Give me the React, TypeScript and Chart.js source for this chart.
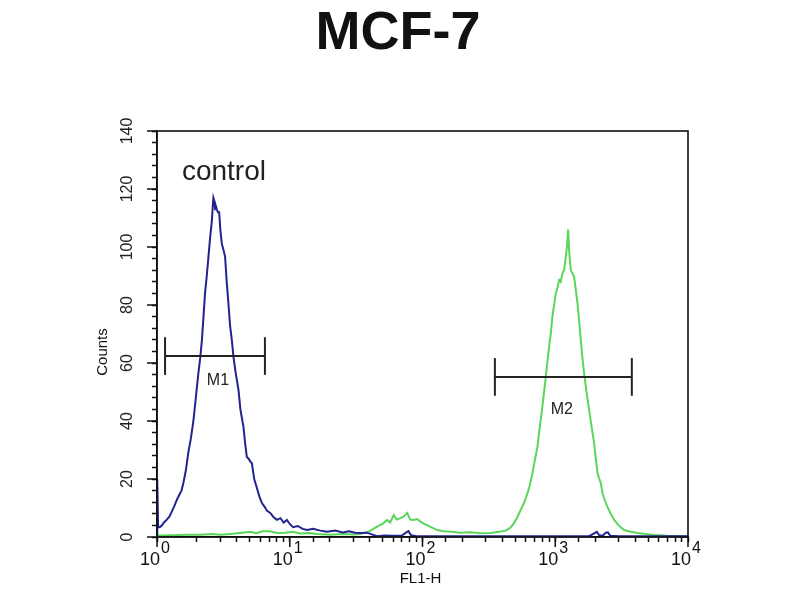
import React, { useEffect, useRef } from "react";
import { Chart, registerables } from "chart.js";

Chart.register(...registerables);

const chartTitle = "MCF-7";
const xAxisTitle = "FL1-H";
const yAxisTitle = "Counts";
const xDecades = [0, 1, 2, 3, 4];
const yTickLabels = [0, 20, 40, 60, 80, 100, 120, 140];
const controlLabel = "control";
const controlLabelPos = [1.54, 123];

// control (blue) histogram: [FL1-H channel, counts]
const controlHistogram: [number, number][] = [
  [1.0, 0], [1.004, 20], [1.02, 3.4], [1.05, 3.4], [1.09, 4], [1.13, 5], [1.18, 5.9], [1.24, 7],
  [1.3, 9], [1.36, 11], [1.41, 12.8], [1.47, 14.5], [1.53, 16], [1.58, 18.6], [1.65, 23], [1.72, 29],
  [1.8, 34], [1.88, 40], [1.96, 48], [2.05, 56.5], [2.12, 62], [2.18, 68], [2.24, 76], [2.3, 84],
  [2.37, 90], [2.44, 96.5], [2.51, 103], [2.59, 109], [2.63, 114], [2.66, 117], [2.7, 116], [2.74, 113],
  [2.78, 114], [2.82, 113], [2.88, 112], [2.94, 112], [3.0, 106], [3.08, 101], [3.17, 99], [3.26, 96.5],
  [3.35, 88], [3.45, 80.7], [3.55, 73], [3.66, 68], [3.77, 62], [3.9, 57], [4.0, 54], [4.11, 50.7],
  [4.25, 44], [4.36, 41], [4.48, 38], [4.62, 32], [4.75, 27.6], [4.9, 27], [5.05, 26], [5.18, 25.5],
  [5.4, 20], [5.65, 17], [5.9, 14], [6.17, 11.7], [6.45, 10.5], [6.75, 9], [7.13, 8.3], [7.5, 7],
  [8.01, 5.9], [8.5, 6.5], [9.0, 5], [9.52, 5.9], [10.0, 4.5], [10.6, 3.4], [11.5, 3.8], [12.5, 2.8],
  [13.5, 2.4], [15, 2.8], [17, 2.2], [19.1, 1.8], [22, 2.2], [25, 1.6], [28, 2.0], [31, 1.5],
  [34, 1.4], [38, 1.5], [41, 1.0], [45.5, 0.3], [52, 0.5], [60, 0.4], [70, 0.5], [75, 1.5],
  [78.4, 2.0], [82, 0.6], [90, 0.3], [110, 0.3], [140, 0.3], [180, 0.3], [250, 0.3], [350, 0.3],
  [500, 0.3], [700, 0.3], [1000, 0.3], [1400, 0.3], [1800, 0.3], [1950, 1.2], [2057, 1.8], [2150, 0.5],
  [2300, 0.6], [2400, 1.5], [2490, 1.6], [2600, 0.4], [3000, 0.3], [4000, 0.3], [6000, 0.3], [10000, 0.3],
];

// MCF-7 sample (green) histogram: [FL1-H channel, counts]
const sampleHistogram: [number, number][] = [
  [1, 0.5], [1.3, 0.6], [1.7, 0.8], [2.11, 0.8], [2.6, 1.0], [3.0, 0.8], [3.55, 1.0], [4.2, 1.4],
  [5.03, 1.8], [5.6, 1.3], [6.2, 2.0], [7.13, 2.0], [8, 1.4], [9.25, 1.5], [10.5, 1.8], [12, 1.2],
  [14, 1.4], [16, 1.0], [20.2, 0.8], [25, 1.0], [30, 0.9], [34, 1.0], [40, 2.0], [45.5, 3.6],
  [50, 4.5], [54.2, 5.9], [57, 5.0], [60.7, 7.6], [64, 6.0], [68.2, 6.5], [72, 7.0], [76.6, 8.3],
  [81, 6.0], [86, 5.9], [91, 6.2], [96.6, 5.3], [102, 4.6], [108, 4.1], [118, 3.2], [129, 2.4],
  [145, 2.0], [165, 1.8], [194, 1.5], [230, 1.6], [270, 1.3], [326, 1.4], [380, 1.8], [423, 2.2],
  [460, 3.2], [489, 4.8], [520, 7], [549, 9.3], [585, 12], [617, 15], [645, 18], [673, 22],
  [705, 27], [734, 31], [765, 38], [800, 45], [848, 55], [898, 65.5], [925, 70], [952, 76],
  [980, 80], [1009, 84], [1040, 86], [1069, 88.6], [1100, 88], [1133, 91], [1165, 92], [1200, 96.5],
  [1225, 100], [1250, 106], [1275, 98], [1309, 92], [1345, 91], [1387, 89.7], [1430, 85], [1470, 80.7],
  [1510, 75], [1557, 68], [1600, 62], [1650, 56.5], [1720, 50], [1800, 43.8], [1880, 38], [1963, 32.4],
  [2020, 27], [2082, 22], [2150, 20], [2205, 18.6], [2270, 15], [2370, 12.5], [2477, 10.3], [2620, 8],
  [2780, 5.9], [3000, 4], [3305, 2.4], [3700, 1.8], [4170, 1.4], [4800, 1.0], [5535, 0.7], [7000, 0.4],
  [10000, 0.3],
];

// gate markers
const markerNames = ["M1", "M2"];
const markerStart = [1.15, 351];
const markerEnd = [6.5, 3775];
const markerLevel = [62.4, 55.2];
const markerCapHalf = 6.5;
const markerLabelX = [2.88, 1122];
const markerLabelY = [53.8, 44];

const FONT = '"Liberation Sans", Arial, sans-serif';
const BLUE = "#23238f";
const GREEN = "#5ad65a";
const INK = "#111111";

const overlayPlugin = {
  id: "overlay",
  afterDraw(chart: any) {
    const { ctx, chartArea: a } = chart;
    const x = chart.scales.x;
    const y = chart.scales.y;
    const line = (x1: number, y1: number, x2: number, y2: number) => {
      ctx.beginPath();
      ctx.moveTo(x1, y1);
      ctx.lineTo(x2, y2);
      ctx.stroke();
    };
    ctx.save();
    ctx.strokeStyle = INK;
    ctx.lineWidth = 1.6;
    ctx.strokeRect(a.left, a.top, a.right - a.left, a.bottom - a.top);

    // major ticks (longer)
    ctx.lineWidth = 1.5;
    xDecades.forEach((d) => {
      const px = x.getPixelForValue(Math.pow(10, d));
      line(px, a.bottom, px, a.bottom + 10);
    });
    yTickLabels.forEach((v) => {
      const py = y.getPixelForValue(v);
      line(a.left - 10, py, a.left, py);
    });

    // gate markers
    ctx.strokeStyle = "#222";
    ctx.lineWidth = 2;
    markerNames.forEach((name, i) => {
      const x1 = x.getPixelForValue(markerStart[i]);
      const x2 = x.getPixelForValue(markerEnd[i]);
      const py = y.getPixelForValue(markerLevel[i]);
      const capTop = y.getPixelForValue(markerLevel[i] + markerCapHalf);
      const capBot = y.getPixelForValue(markerLevel[i] - markerCapHalf);
      line(x1, py, x2, py);
      line(x1, capTop, x1, capBot);
      line(x2, capTop, x2, capBot);
      ctx.fillStyle = "#222";
      ctx.font = `16px ${FONT}`;
      ctx.textAlign = "center";
      ctx.textBaseline = "middle";
      ctx.fillText(name, x.getPixelForValue(markerLabelX[i]), y.getPixelForValue(markerLabelY[i]));
    });

    // control label
    ctx.fillStyle = "#222";
    ctx.font = `28px ${FONT}`;
    ctx.textAlign = "left";
    ctx.textBaseline = "alphabetic";
    ctx.fillText(controlLabel, x.getPixelForValue(controlLabelPos[0]), y.getPixelForValue(controlLabelPos[1]));

    // title
    ctx.fillStyle = INK;
    ctx.font = `bold 54px ${FONT}`;
    ctx.textAlign = "center";
    ctx.fillText(chartTitle, 398, 49);

    // x tick labels: 10^n
    xDecades.forEach((d) => {
      const px = x.getPixelForValue(Math.pow(10, d));
      ctx.font = `18px ${FONT}`;
      ctx.textAlign = "right";
      ctx.fillStyle = INK;
      ctx.fillText("10", px + 3, a.bottom + 28);
      ctx.font = `16px ${FONT}`;
      ctx.textAlign = "left";
      ctx.fillText(String(d), px + 4, a.bottom + 16);
    });

    // y tick labels (rotated)
    ctx.font = `16px ${FONT}`;
    ctx.fillStyle = "#222";
    yTickLabels.forEach((v) => {
      const py = y.getPixelForValue(v);
      ctx.save();
      ctx.translate(a.left - 29, py);
      ctx.rotate(-Math.PI / 2);
      ctx.textAlign = "center";
      ctx.textBaseline = "middle";
      ctx.fillText(String(v), 0, 0);
      ctx.restore();
    });

    // axis titles
    ctx.font = `15px ${FONT}`;
    ctx.fillStyle = INK;
    ctx.textAlign = "center";
    ctx.textBaseline = "middle";
    ctx.fillText(xAxisTitle, (a.left + a.right) / 2 - 2, a.bottom + 42);
    ctx.save();
    ctx.translate(a.left - 54, (a.top + a.bottom) / 2 + 18);
    ctx.rotate(-Math.PI / 2);
    ctx.fillText(yAxisTitle, 0, 0);
    ctx.restore();

    ctx.restore();
  },
};

export default function App() {
  const canvasRef = useRef<HTMLCanvasElement | null>(null);

  useEffect(() => {
    if (!canvasRef.current) return;
    const chart = new Chart(canvasRef.current, {
      type: "line",
      data: {
        datasets: [
          {
            label: "control",
            data: controlHistogram.map(([cx, cy]) => ({ x: cx, y: cy })),
            borderColor: BLUE,
            borderWidth: 2,
            pointRadius: 0,
            tension: 0,
            fill: false,
            clip: false as any,
          },
          {
            label: "MCF-7",
            data: sampleHistogram.map(([cx, cy]) => ({ x: cx, y: cy })),
            borderColor: GREEN,
            borderWidth: 2,
            pointRadius: 0,
            tension: 0,
            fill: false,
            clip: false as any,
          },
        ],
      },
      options: {
        animation: false,
        responsive: true,
        maintainAspectRatio: false,
        layout: { padding: { top: 131, right: 112, left: 0, bottom: 0 } },
        plugins: { legend: { display: false }, tooltip: { enabled: false }, title: { display: false } },
        events: [],
        scales: {
          x: {
            type: "logarithmic",
            min: 1,
            max: 10000,
            position: "bottom",
            ticks: { display: false },
            grid: {
              display: true,
              drawOnChartArea: false,
              drawTicks: true,
              tickLength: 5,
              color: INK,
              tickColor: INK,
              tickWidth: 1.5,
            },
            border: { display: true, color: INK, width: 1.6 },
            afterFit: (s: any) => {
              s.height = 63;
            },
          },
          y: {
            type: "linear",
            min: 0,
            max: 140,
            ticks: { display: false, stepSize: 4 },
            grid: {
              display: true,
              drawOnChartArea: false,
              drawTicks: true,
              tickLength: 5,
              color: INK,
              tickColor: INK,
              tickWidth: 1.5,
            },
            border: { display: true, color: INK, width: 1.6 },
            afterFit: (s: any) => {
              s.width = 157;
            },
          },
        },
      },
      plugins: [overlayPlugin],
    });
    return () => chart.destroy();
  }, []);

  return (
    <div style={{ position: "fixed", left: 0, top: 0, width: 800, height: 600, background: "#fff" }}>
      <canvas ref={canvasRef} />
    </div>
  );
}
